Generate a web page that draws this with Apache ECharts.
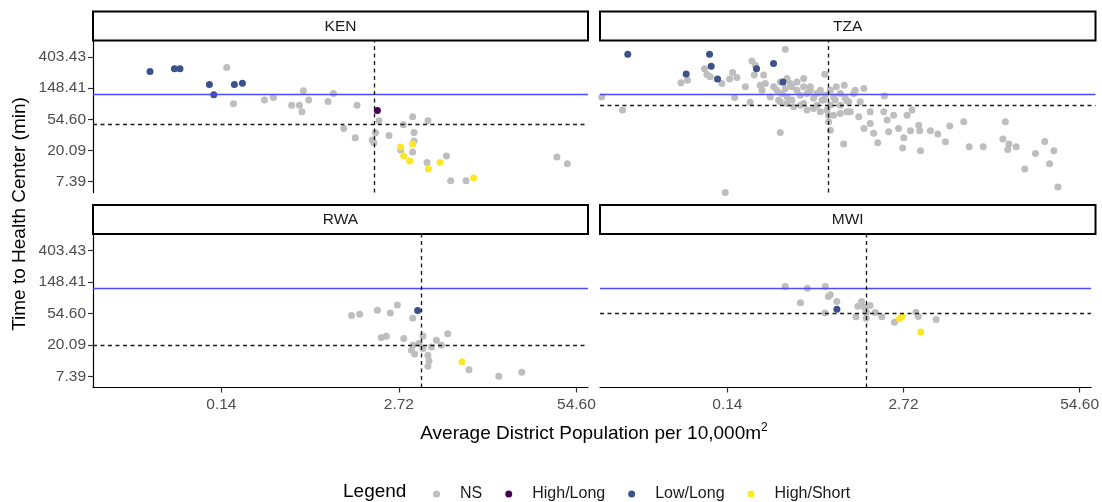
<!DOCTYPE html>
<html>
<head>
<meta charset="utf-8">
<script src="https://cdn.jsdelivr.net/npm/echarts@6/dist/echarts.min.js"></script>
<style>html,body{margin:0;padding:0;background:#fff}#c{width:1102px;height:502px}</style>
</head>
<body>
<div id="c"></div>
<script>
// ---------------- data (density per 10,000 m², minutes) ----------------
const countries = ['KEN', 'TZA', 'RWA', 'MWI'];
const legendClasses = ['NS', 'High/Long', 'Low/Long', 'High/Short'];
const classColors = ['#BEBEBE', '#440154', '#3B528B', '#FDE725'];

const KEN_NS = [[0.148,287],[0.166,89.7],[0.280,101],[0.326,110],[0.444,86],[0.506,86],[0.528,69.4],[0.541,136],[0.592,101],[0.820,96.8],[0.898,125],[1.07,40.8],[1.34,86],[1.30,30.2],[1.73,28.1],[1.78,25.7],[1.83,35.4],[1.94,52.0],[2.30,32.6],[2.93,45.8],[3.43,59.1],[3.51,35.9],[3.51,27.2],[3.43,19.1],[4.44,52.0],[2.80,20.4],[4.37,13.7],[6.07,16.8],[6.52,7.63],[8.45,7.63],[39.3,16.3],[46.9,13.1]];
const KEN_HL = [[1.89,72.6]];
const KEN_LL = [[0.0405,253],[0.0612,275],[0.0672,275],[0.1105,167],[0.119,119.6],[0.1686,167],[0.193,174]];
const KEN_HS = [[2.80,22.4],[3.43,24.7],[2.95,16.8],[3.26,14.3],[4.47,11.1],[5.44,13.7],[9.62,8.32]];

const TZA_NS = [[0.0159,112],[0.0226,73.3],[0.0606,176],[0.0677,191],[0.0902,275],[0.094,230],[0.0994,213],[0.121,172],[0.138,198],[0.145,245],[0.156,209],[0.150,110],[0.180,155],[0.201,355],[0.213,309],[0.209,225],[0.245,225],[0.231,163],[0.195,94.6],[0.252,172],[0.238,139],[0.274,112],[0.290,155],[0.324,181],[0.363,202],[0.353,516],[0.324,35.9],[0.128,5.25],[0.315,101],[0.307,139],[0.334,125],[0.363,112],[0.395,155],[0.430,139],[0.455,118],[0.481,155],[0.509,125],[0.538,139],[0.569,107],[0.603,125],[0.638,139],[0.656,101],[0.694,118],[0.755,139],[0.798,112],[0.894,125],[0.973,107],[0.324,95.6],[0.363,90.8],[0.406,81.5],[0.455,86],[0.509,73.3],[0.569,77.4],[0.638,69.4],[0.714,73.3],[0.798,62.4],[0.894,66.0],[1.00,69.4],[0.384,172],[0.430,181],[0.481,202],[0.538,155],[0.481,90.8],[0.603,86],[0.755,86],[0.894,86],[1.03,95.6],[0.353,147],[0.395,101],[0.686,232],[0.835,155],[0.945,24.7],[0.755,38.6],[0.733,50.4],[0.733,62.4],[0.956,162],[1.15,139],[1.33,147],[1.88,115],[0.674,101],[0.821,101],[1.00,98.7],[1.12,125],[1.25,95.6],[1.06,69.4],[1.22,59.1],[1.48,69.4],[1.86,69.4],[1.48,47.9],[1.33,40.8],[1.97,53.2],[2.20,62.4],[2.76,62.4],[3.00,73.3],[1.57,34.8],[2.02,36.6],[2.39,40.8],[3.36,45.3],[2.92,37.8],[3.41,37.8],[4.09,37.8],[4.63,34.0],[5.67,43.9],[7.18,50.4],[2.61,30.2],[5.27,26.6],[1.68,25.7],[2.56,21.7],[3.46,19.9],[7.87,22.6],[9.97,22.6],[14.5,50.4],[13.9,29.0],[15.4,24.7],[15.1,20.8],[17.4,22.6],[20.1,11.1],[24.1,18.3],[28.2,26.9],[32.9,19.9],[30.6,13.1],[35.2,6.24]];
const TZA_HL = [];
const TZA_LL = [[0.0247,440],[0.0982,440],[0.101,300],[0.0662,234],[0.1124,198],[0.2172,275],[0.2895,327],[0.3394,181]];
const TZA_HS = [];

const RWA_NS = [[1.22,51.3],[1.40,53.4],[1.89,60.6],[2.35,55.8],[2.65,71.7],[3.43,47.1],[2.02,25.5],[2.20,26.5],[2.95,24.7],[4.08,26.8],[5.12,23.4],[6.20,28.9],[5.57,20.0],[4.71,18.9],[3.45,20.0],[3.36,17.1],[3.55,15.1],[3.82,21.1],[4.08,18.0],[4.44,14.6],[4.52,12.2],[4.44,10.3],[8.89,9.2],[14.7,7.48],[21.7,8.48]];
const RWA_HL = [];
const RWA_LL = [[3.73,60.0]];
const RWA_HS = [[7.90,11.8]];

const MWI_NS = [[0.363,129],[0.529,122],[0.718,129],[0.755,94.0],[0.781,99.2],[0.470,77.1],[0.874,80.3],[0.714,55.8],[1.21,49.2],[1.25,68.7],[1.33,80.3],[1.40,66.6],[1.54,70.8],[1.44,47.1],[1.44,56.9],[1.68,56.4],[1.88,49.2],[2.33,41.5],[3.36,56.9],[3.50,49.7],[4.74,45.2]];
const MWI_HL = [];
const MWI_LL = [[0.874,62.5]];
const MWI_HS = [[2.54,46.2],[2.64,49.7],[3.64,30.4]];

// reference lines
const refTime = 120;                          // solid blue line (min)
const vlineDensity = [1.79, 0.73, 3.98, 1.44]; // dashed vertical per country
const hlineTime = [46, 86, 20.0, 55.8];        // dashed horizontal per country

// ticks: natural-log axes, labels are exp(k)
const xTickExp = [-2, 1, 4];
const yTickExp = [2, 3, 4, 5, 6];
const xRangeExp = [-4.17, 4.196];
const yRangeExp = [1.655, 6.525];

// ---------------- chart ----------------
const FONT = '"Liberation Sans", Arial, Helvetica, sans-serif';
const classData = [
  [KEN_NS, KEN_HL, KEN_LL, KEN_HS],
  [TZA_NS, TZA_HL, TZA_LL, TZA_HS],
  [RWA_NS, RWA_HL, RWA_LL, RWA_HS],
  [MWI_NS, MWI_HL, MWI_LL, MWI_HS]
];
const grids = [
  {left: 93, top: 40.5, width: 495, height: 152},
  {left: 600, top: 40.5, width: 495.5, height: 152},
  {left: 93, top: 234, width: 495, height: 153.5},
  {left: 600, top: 234, width: 495.5, height: 153.5}
];
const stripTop = [11.5, 11.5, 205, 205];
const stripH = 29;

const xAxes = [], yAxes = [], series = [], graphics = [];
grids.forEach((g, i) => {
  const bottom = i >= 2, left = i % 2 === 0;
  xAxes.push({
    gridIndex: i, type: 'value', min: xRangeExp[0], max: xRangeExp[1],
    splitLine: {show: false},
    axisLine: {show: bottom, onZero: false, lineStyle: {color: '#000', width: 1.2}},
    axisTick: {show: bottom, customValues: xTickExp, length: 5, lineStyle: {color: '#333', width: 1.2}},
    axisLabel: {show: bottom, customValues: xTickExp, formatter: v => Math.exp(v).toFixed(2),
      margin: 9, color: '#4D4D4D', fontSize: 15.5, fontFamily: FONT}
  });
  yAxes.push({
    gridIndex: i, type: 'value', min: yRangeExp[0], max: yRangeExp[1],
    splitLine: {show: false},
    axisLine: {show: left, onZero: false, lineStyle: {color: '#000', width: 1.2}},
    axisTick: {show: left, customValues: yTickExp, length: 5, lineStyle: {color: '#333', width: 1.2}},
    axisLabel: {show: left, customValues: yTickExp, formatter: v => Math.exp(v).toFixed(2),
      margin: 7, color: '#4D4D4D', fontSize: 15.5, fontFamily: FONT}
  });
  classData[i].forEach((arr, k) => {
    series.push({
      type: 'scatter', name: legendClasses[k], xAxisIndex: i, yAxisIndex: i,
      data: arr.map(d => [Math.log(d[0]), Math.log(d[1])]),
      symbol: 'circle', symbolSize: 7, z: 2, silent: true,
      itemStyle: {color: classColors[k], opacity: 1}
    });
  });
  const dash = {color: '#1A1A1A', width: 1.35, type: [4, 3.5]};
  series.push({
    type: 'scatter', xAxisIndex: i, yAxisIndex: i, data: [], z: 3, silent: true,
    markLine: {
      silent: true, symbol: ['none', 'none'], label: {show: false}, animation: false,
      emphasis: {disabled: true},
      data: [
        {yAxis: Math.log(refTime), lineStyle: {color: '#4B4BFF', width: 1.4, type: 'solid'}},
        {yAxis: Math.log(hlineTime[i]), lineStyle: dash},
        {xAxis: Math.log(vlineDensity[i]), lineStyle: dash}
      ]
    }
  });
  graphics.push({
    type: 'rect', shape: {x: g.left, y: stripTop[i], width: g.width, height: stripH},
    style: {fill: '#fff', stroke: '#000', lineWidth: 2}, silent: true
  });
  graphics.push({
    type: 'text', x: g.left + g.width / 2, y: stripTop[i] + stripH / 2 + 0.5, silent: true,
    style: {text: countries[i], fontSize: 15.5, fontFamily: FONT, fill: '#1A1A1A',
      textAlign: 'center', textVerticalAlign: 'middle'}
  });
});

graphics.push({
  type: 'text', x: 20, y: 214, rotation: Math.PI / 2, silent: true,
  style: {text: 'Time to Health Center (min)', fontSize: 19, fontFamily: FONT, fill: '#000',
    textAlign: 'center', textVerticalAlign: 'middle'}
});
graphics.push({
  type: 'text', x: 594, y: 434, silent: true,
  style: {
    text: '{a|Average District Population per 10,000m}{s|2}',
    rich: {
      a: {fontSize: 19, fontFamily: FONT, fill: '#000', lineHeight: 24},
      s: {fontSize: 12, fontFamily: FONT, fill: '#000', lineHeight: 12, verticalAlign: 'top'}
    },
    textAlign: 'center', textVerticalAlign: 'middle'
  }
});
graphics.push({
  type: 'text', x: 343, y: 492, silent: true,
  style: {text: 'Legend', fontSize: 19, fontFamily: FONT, fill: '#000',
    textAlign: 'left', textVerticalAlign: 'middle'}
});

const chart = echarts.init(document.getElementById('c'), null, {renderer: 'canvas'});
chart.setOption({
  animation: false,
  backgroundColor: '#fff',
  grid: grids,
  xAxis: xAxes,
  yAxis: yAxes,
  series: series,
  legend: {
    data: legendClasses.map(n => ({name: n, icon: 'circle'})),
    left: 428, top: 480, itemWidth: 7, itemHeight: 7, itemGap: 23,
    selectedMode: false,
    textStyle: {fontSize: 16, fontFamily: FONT, color: '#1A1A1A', padding: [0, 0, 0, 15], lineHeight: 18}
  },
  graphic: graphics
});
</script>
</body>
</html>
